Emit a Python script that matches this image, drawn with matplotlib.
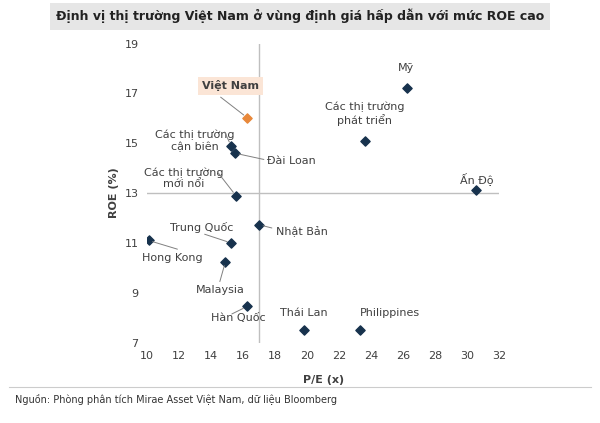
import matplotlib.pyplot as plt

names = ["Mỹ", "Việt Nam", "Các thị trường\nphát triển", "Các thị trường\ncận biên", "Đài Loan",
         "Các thị trường\nmới nổi", "Ấn Độ", "Nhật Bản", "Hong Kong", "Trung Quốc", "Malaysia",
         "Hàn Quốc", "Thái Lan", "Philippines"]
pe = [26.25, 16.25, 23.6, 15.25, 15.5, 15.55, 30.56, 17.0, 10.1, 15.25, 14.9, 16.25, 19.8, 23.3]
roe = [17.23, 16.03, 15.1, 14.9, 14.6, 12.9, 13.14, 11.73, 11.1, 11.0, 10.25, 8.45, 7.5, 7.5]

# label position (data coords) and leader-line start (None = no leader)
label_pos = [(26.2, 18.0), (15.2, 17.3), (23.6, 16.2), (13.0, 15.1), (19.0, 14.3), (12.3, 13.6),
             (30.6, 13.6), (19.7, 11.45), (11.6, 10.4), (13.4, 11.6), (14.6, 9.1), (15.7, 8.0),
             (19.8, 8.2), (25.2, 8.2)]
leader_from = [None, (14.6, 16.85), None, (14.85, 15.45), (17.3, 14.35), (14.4, 13.85), None,
               (17.8, 11.6), (11.9, 10.75), (13.6, 11.35), (14.55, 9.45), (15.3, 8.15), None, None]

navy = "#17324d"
orange = "#e8883a"
grey = "#404040"

fig = plt.figure(figsize=(6.0, 4.23), dpi=100)
fig.patch.set_facecolor("white")
ax = fig.add_axes([0.245, 0.19, 0.587, 0.707])
ax.set_xlim(10, 32)
ax.set_ylim(7, 19)
ax.set_xticks(range(10, 33, 2))
ax.set_yticks(range(7, 20, 2))
ax.tick_params(length=0, labelsize=8, colors=grey, pad=6)
for s in ax.spines.values():
    s.set_visible(False)

ax.axvline(17, color="#bfbfbf", lw=1, zorder=1)
ax.axhline(13, color="#bfbfbf", lw=1, zorder=1)

for i, n in enumerate(names):
    c = orange if n == "Việt Nam" else navy
    ax.scatter(pe[i], roe[i], marker="D", s=22, color=c, zorder=3)
    lx, ly = label_pos[i]
    if n == "Việt Nam":
        ax.text(lx, ly, n, ha="center", va="center", fontsize=8, fontweight="bold", color=grey,
                bbox=dict(boxstyle="square,pad=0.35", fc="#fbe5d6", ec="none"))
    else:
        ax.text(lx, ly, n, ha="center", va="center", fontsize=8, color=grey, linespacing=1.2)
    if leader_from[i] is not None:
        ax.annotate("", xy=(pe[i], roe[i]), xytext=leader_from[i],
                    arrowprops=dict(arrowstyle="-", color="#808080", lw=0.7, shrinkA=0, shrinkB=3))

ax.set_xlabel("P/E (x)", fontsize=8, fontweight="bold", color=grey, labelpad=10)
ax.set_ylabel("ROE (%)", fontsize=8, fontweight="bold", color=grey)

fig.text(0.5, 0.962, "Định vị thị trường Việt Nam ở vùng định giá hấp dẫn với mức ROE cao",
         ha="center", va="center", fontsize=9, fontweight="bold", color="#222222",
         bbox=dict(boxstyle="square,pad=0.5", fc="#e6e6e6", ec="none"))
fig.add_artist(plt.Line2D([0.015, 0.985], [0.085, 0.085], color="#cccccc", lw=0.8))
fig.text(0.025, 0.055, "Nguồn: Phòng phân tích Mirae Asset Việt Nam, dữ liệu Bloomberg",
         fontsize=7, color="#333333", va="center")

fig.savefig("out.png", dpi=100)
